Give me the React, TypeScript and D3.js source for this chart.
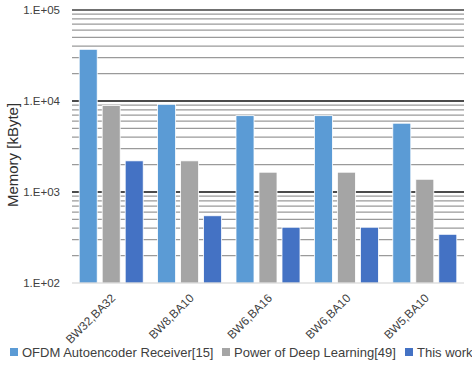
import React from "react";
import * as d3 from "d3";

const categories = ["BW32,BA32", "BW8,BA10", "BW6,BA16", "BW6,BA10", "BW5,BA10"];
const seriesNames = ["OFDM Autoencoder Receiver[15]", "Power of Deep Learning[49]", "This work"];
const ofdmValues = [37000, 9200, 6900, 6900, 5700];
const deepLearningValues = [8900, 2200, 1650, 1650, 1380];
const thisWorkValues = [2200, 548, 410, 410, 343];
const seriesColors = ["#5B9BD5", "#A5A5A5", "#4472C4"];
const yTickLabels = ["1.E+02", "1.E+03", "1.E+04", "1.E+05"];
const yTickValues = [1e2, 1e3, 1e4, 1e5];

const W = 472;
const H = 366;
const margin = { left: 72, right: 8, top: 10, bottom: 83 };
const FONT = "'Liberation Sans', Arial, sans-serif";

export default function App() {
  const series = [ofdmValues, deepLearningValues, thisWorkValues];
  const x = d3
    .scaleBand<string>()
    .domain(categories)
    .range([margin.left, W - margin.right])
    .paddingInner(0)
    .paddingOuter(0);
  const x1 = d3
    .scaleBand<number>()
    .domain([0, 1, 2])
    .range([0, x.bandwidth()])
    .paddingInner(0.217)
    .paddingOuter(0.313);
  const y = d3.scaleLog().domain([1e2, 1e5]).range([H - margin.bottom, margin.top]);

  // minor grid values (2..9 per decade)
  const minor: number[] = [];
  for (let e = 2; e < 5; e++) for (let m = 2; m <= 9; m++) minor.push(m * Math.pow(10, e));

  const legendX = [10, 222, 405];

  return (
    <svg width={W} height={H} style={{ position: "absolute", left: 0, top: 0 }}>
      <rect width={W} height={H} fill="#fff" />
      {minor.map((v) => (
        <line key={"m" + v} x1={margin.left} x2={W - margin.right} y1={y(v)} y2={y(v)} stroke="#9a9a9a" strokeWidth={1.3} />
      ))}
      {yTickValues.slice(1).map((v) => (
        <line key={"M" + v} x1={margin.left} x2={W - margin.right} y1={y(v)} y2={y(v)} stroke={v === 1e5 ? "#404040" : "#111"} strokeWidth={1.6} />
      ))}
      {series.map((vals, si) =>
        vals.map((v, ci) => (
          <rect
            key={si + "-" + ci}
            x={(x(categories[ci]) as number) + (x1(si) as number)}
            y={y(v)}
            width={x1.bandwidth()}
            height={y(1e2) - y(v)}
            fill={seriesColors[si]}
            stroke="#fff"
            strokeWidth={0.8}
          />
        ))
      )}
      <line x1={margin.left} x2={W - margin.right} y1={y(1e2)} y2={y(1e2)} stroke="#d0d0d0" strokeWidth={1.2} />
      {yTickValues.map((v, i) => (
        <text key={"t" + v} x={60} y={y(v)} dy="0.35em" textAnchor="end" fontFamily={FONT} fontSize={11.5} fill="#404040">
          {yTickLabels[i]}
        </text>
      ))}
      <text
        transform={`translate(13,155) rotate(-90)`}
        textAnchor="middle"
        dy="0.35em"
        fontFamily={FONT}
        fontSize={15}
        fill="#303030"
      >
        Memory [kByte]
      </text>
      {categories.map((c) => {
        const cx = (x(c) as number) + x.bandwidth() / 2 + 2;
        return (
          <text
            key={c}
            transform={`translate(${cx},${y(1e2) + 13}) rotate(-45)`}
            textAnchor="end"
            dy="0.35em"
            fontFamily={FONT}
            fontSize={11.8}
            fill="#404040"
          >
            {c}
          </text>
        );
      })}
      {seriesNames.map((name, i) => (
        <g key={name} transform={`translate(${legendX[i]},352)`}>
          <rect x={0} y={-4} width={8} height={8} fill={seriesColors[i]} />
          <text x={12} y={0} dy="0.35em" fontFamily={FONT} fontSize={13} fill="#404040">
            {name}
          </text>
        </g>
      ))}
    </svg>
  );
}
